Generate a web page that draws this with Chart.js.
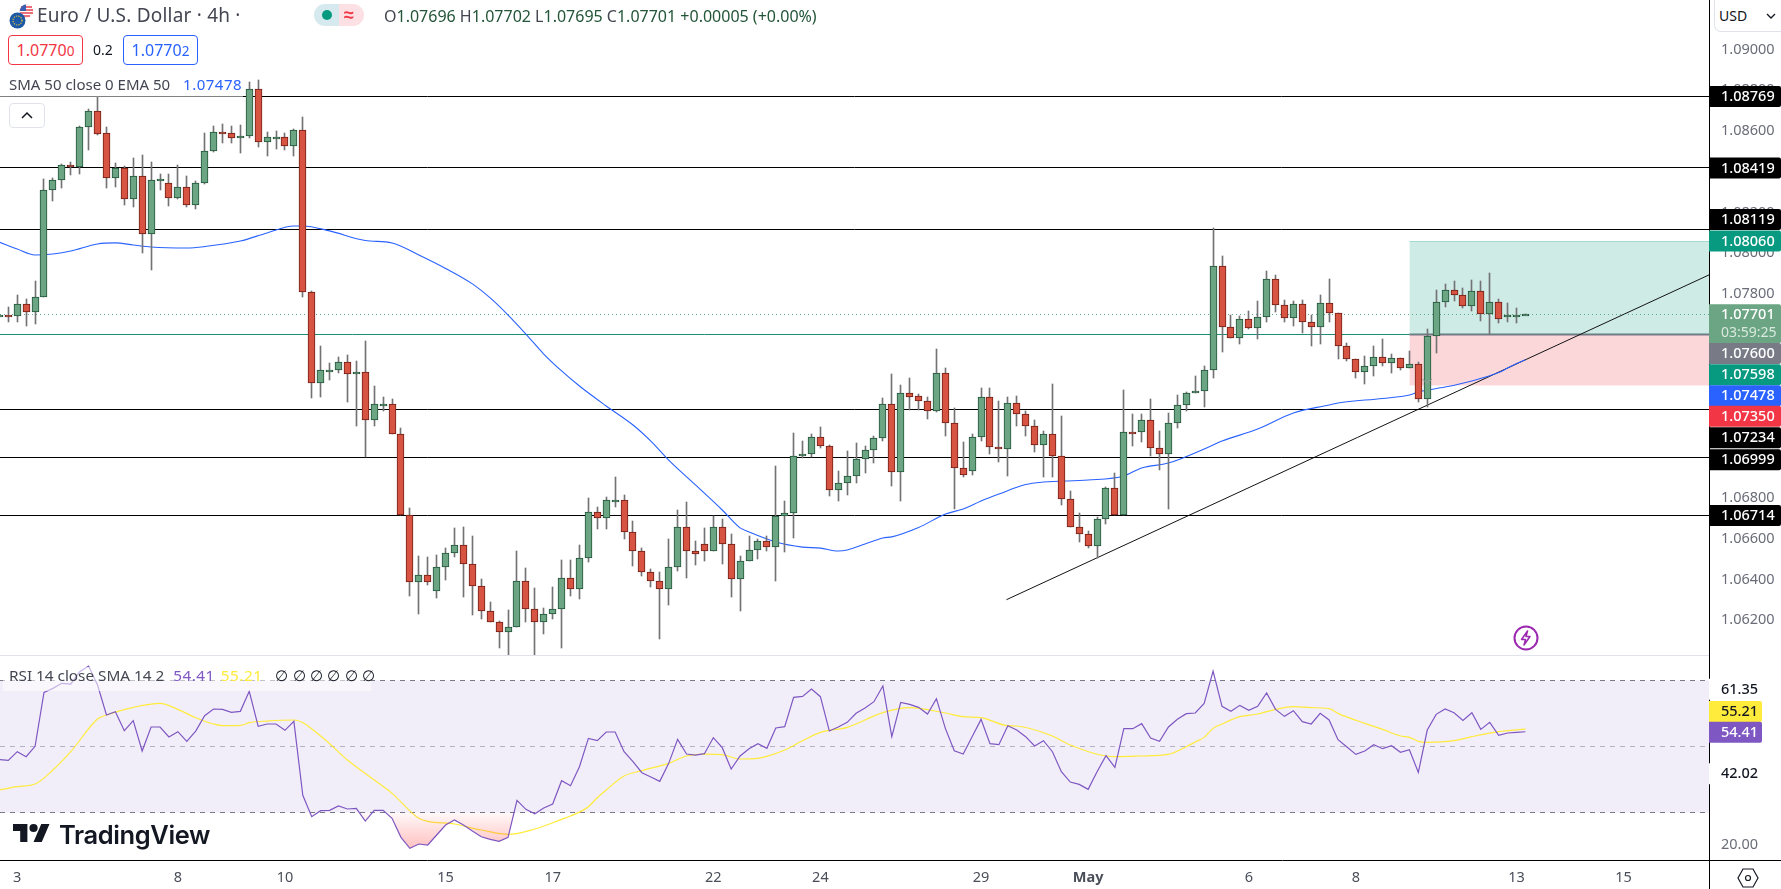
<!DOCTYPE html>
<html><head><meta charset="utf-8">
<script src="https://cdn.jsdelivr.net/npm/chart.js@4/dist/chart.umd.js"></script>
<style>
html,body{margin:0;padding:0;background:#fff;width:1781px;height:889px;overflow:hidden;font-family:"Noto Sans",sans-serif;color:#131722}
canvas{position:absolute;left:0}
.t{position:absolute;white-space:nowrap;line-height:1}
.g{color:#225437}
.n{letter-spacing:.5px}
sup{font-size:85%;line-height:0;vertical-align:22%}
.box{position:absolute;box-sizing:border-box;border-radius:4px;border:1px solid;top:35px;height:30px;width:75px;text-align:center;font-size:16px;line-height:28px;background:#fff}
</style></head><body>
<canvas id="price" width="1781" height="655" style="top:0"></canvas>
<canvas id="rsi" width="1781" height="234" style="top:655px"></canvas>
<div style="position:absolute;left:0;top:655px;width:1709px;height:1px;background:#e0e3eb"></div>
<div style="position:absolute;left:1709px;top:860px;width:72px;height:1px;background:#000"></div>
<div style="position:absolute;left:1709px;top:860px;width:1px;height:29px;background:#000"></div>

<svg style="position:absolute;left:8px;top:3px" width="26" height="26" viewBox="0 0 26 26">
<circle cx="18" cy="8" r="6.5" fill="#fff" stroke="#f4c6c8" stroke-width=".5"/><path d="M13 4h11M12 7h13M12 10h13M14 13h8" stroke="#e9434f" stroke-width="1.4"/><path d="M12 8a6.500 6.500 0 0 1 6-6.500V8z" fill="#3a5fb0"/>
<circle cx="9.500" cy="17.500" r="8" fill="#1c5aa8"/><circle cx="9.500" cy="17.500" r="4.500" fill="none" stroke="#e8c53a" stroke-width="1.200" stroke-dasharray="1.200 1.200"/></svg>
<div class="t" style="left:37px;top:6px;font-size:19px;color:#434651;letter-spacing:.2px">Euro / U.S. Dollar · 4h ·</div>
<div style="position:absolute;left:314px;top:4px;width:25px;height:22px;background:#d5e9ee;border-radius:11px 0 0 11px"></div>
<div style="position:absolute;left:339px;top:4px;width:25px;height:22px;background:#fde0e3;border-radius:0 11px 11px 0"></div>
<div style="position:absolute;left:322px;top:10px;width:10px;height:10px;border-radius:5px;background:#089981"></div>
<div class="t" style="left:344px;top:5px;font-size:18px;color:#f23645;font-weight:700">≈</div>
<div class="t" style="left:384px;top:8px;font-size:16px;color:#434651">O<span class="g">1.07696</span> H<span class="g">1.07702</span> L<span class="g">1.07695</span> C<span class="g">1.07701</span> <span class="g">+0.00005 (+0.00%)</span></div>
<div class="box" style="left:8px;border-color:#f23645;color:#f23645">1.0770<sup>0</sup></div>
<div class="t" style="left:93px;top:43px;font-size:14px">0.2</div>
<div class="box" style="left:123px;border-color:#2962ff;color:#2962ff">1.0770<sup>2</sup></div>
<div style="position:absolute;left:0;top:72px;width:243px;height:25px;background:rgba(255,255,255,.5);z-index:1"></div>
<div class="t" style="left:9px;top:77px;font-size:15px;color:#434651;z-index:2">SMA 50 close 0 EMA 50 <span class="n" style="color:#2962ff;margin-left:9px">1.07478</span></div>
<div style="position:absolute;left:9px;top:103px;width:36px;height:25px;box-sizing:border-box;border:1px solid #e0e3eb;border-radius:4px;background:#fff"></div>
<svg style="position:absolute;left:20px;top:110px" width="14" height="10" viewBox="0 0 14 10"><path d="M2 8l5-5 5 5" fill="none" stroke="#131722" stroke-width="1.500"/></svg>

<div style="position:absolute;left:1714px;top:-1px;width:67px;height:33px;box-sizing:border-box;border:1px solid #e0e3eb;border-right:0;border-radius:0 0 0 7px;background:#fff"></div>
<div class="t" style="left:1719px;top:9px;font-size:14px">USD</div>
<svg style="position:absolute;left:1766px;top:12px" width="10" height="8" viewBox="0 0 10 8"><path d="M1 2l4 4 4-4" fill="none" stroke="#131722" stroke-width="1.300"/></svg>

<svg style="position:absolute;left:1513px;top:625px" width="26" height="26" viewBox="0 0 26 26"><circle cx="13" cy="13" r="11.500" fill="#fff" stroke="#9c27b0" stroke-width="2"/><path d="M14.500 6L8.500 14.500h4L11 20l6-8.500h-4z" fill="#fff" stroke="#9c27b0" stroke-width="1.500" stroke-linejoin="round"/></svg>
<svg style="position:absolute;left:1421px;top:378px" width="12" height="7" viewBox="0 0 12 7"><path d="M1 1l5 4 5-4" fill="none" stroke="#9a9ca3" stroke-width="1"/></svg>

<div style="position:absolute;left:3px;top:667px;width:368px;height:24px;background:rgba(255,255,255,.55)"></div>
<div class="t" style="left:9px;top:668px;font-size:15.300px;color:#434651">RSI 14 close SMA 14 2 <span class="n" style="color:#7e57c2;margin-left:5px">54.41</span> <span class="n" style="color:#ffeb3b;margin-left:2px">55.21</span> <span style="margin-left:9px;word-spacing:.3px;color:#131722">∅ ∅ ∅ ∅ ∅ ∅</span></div>

<svg style="position:absolute;left:13px;top:824px" width="37" height="18" viewBox="0 4 36 18" preserveAspectRatio="none"><path d="M14 22H7V11H0V4h14v18zM28 22h-8l7.500-18h8L28 22z" fill="#131722"/><circle cx="20" cy="8" r="4" fill="#131722"/></svg>
<div class="t" style="left:59px;top:822px;font-size:25.500px;font-family:Inter;font-weight:600;color:#131722;letter-spacing:-.4px">TradingView</div>
<svg style="position:absolute;left:1736px;top:867px" width="24" height="22" viewBox="0 0 24 22"><path d="M7 2h10l5 9-5 9H7l-5-9z" fill="none" stroke="#131722" stroke-width="1.200"/><circle cx="12" cy="11" r="2.500" fill="none" stroke="#131722" stroke-width="1.200"/></svg>

<script>
const opens=[1.07688,1.07697,1.07692,1.07751,1.07712,1.07786,1.08310,1.08359,1.08433,1.08423,1.08620,1.08698,1.08590,1.08369,1.08418,1.08266,1.08379,1.08095,1.08359,1.08345,1.08271,1.08325,1.08237,1.08345,1.08502,1.08595,1.08590,1.08566,1.08575,1.08806,1.08546,1.08566,1.08570,1.08526,1.08605,1.07810,1.07364,1.07423,1.07428,1.07467,1.07408,1.07418,1.07182,1.07256,1.07261,1.07114,1.06716,1.06388,1.06422,1.06344,1.06461,1.06530,1.06569,1.06476,1.06368,1.06246,1.06192,1.06142,1.06167,1.06393,1.06255,1.06192,1.06231,1.06255,1.06407,1.06354,1.06505,1.06731,1.06702,1.06785,1.06790,1.06633,1.06540,1.06437,1.06393,1.06354,1.06461,1.06658,1.06540,1.06574,1.06540,1.06658,1.06574,1.06403,1.06491,1.06545,1.06589,1.06559,1.06711,1.06726,1.07006,1.07016,1.07099,1.07055,1.06839,1.06873,1.06908,1.06991,1.07035,1.07094,1.07261,1.06927,1.07315,1.07300,1.07276,1.07227,1.07413,1.07168,1.06947,1.06932,1.07099,1.07295,1.07050,1.07040,1.07266,1.07212,1.07153,1.07060,1.07114,1.07006,1.06795,1.06658,1.06623,1.06564,1.06697,1.06849,1.06716,1.07124,1.07124,1.07182,1.07045,1.07016,1.07168,1.07256,1.07315,1.07325,1.07428,1.07938,1.07639,1.07585,1.07678,1.07634,1.07688,1.07874,1.07746,1.07683,1.07751,1.07663,1.07639,1.07756,1.07707,1.07545,1.07482,1.07418,1.07447,1.07491,1.07462,1.07486,1.07437,1.07457,1.07285,1.07594,1.07761,1.07820,1.07796,1.07742,1.07815,1.07702,1.07761,1.07688,1.07695,1.07696];
const highs=[1.07697,1.07737,1.07796,1.07776,1.07864,1.08364,1.08369,1.08438,1.08448,1.08624,1.08708,1.08767,1.08620,1.08443,1.08428,1.08467,1.08482,1.08448,1.08389,1.08389,1.08433,1.08379,1.08354,1.08590,1.08624,1.08634,1.08624,1.08629,1.08840,1.08850,1.08595,1.08600,1.08590,1.08610,1.08669,1.07815,1.07545,1.07462,1.07491,1.07501,1.07472,1.07570,1.07349,1.07295,1.07285,1.07143,1.06751,1.06515,1.06510,1.06520,1.06554,1.06653,1.06658,1.06613,1.06403,1.06290,1.06197,1.06250,1.06540,1.06456,1.06358,1.06260,1.06363,1.06496,1.06496,1.06569,1.06800,1.06756,1.06805,1.06903,1.06815,1.06687,1.06554,1.06451,1.06437,1.06599,1.06741,1.06780,1.06589,1.06653,1.06711,1.06697,1.06623,1.06515,1.06613,1.06599,1.06613,1.06957,1.06785,1.07119,1.07079,1.07114,1.07148,1.07060,1.06932,1.07030,1.07070,1.07055,1.07104,1.07290,1.07408,1.07354,1.07388,1.07310,1.07295,1.07531,1.07437,1.07241,1.07074,1.07114,1.07339,1.07339,1.07276,1.07295,1.07300,1.07227,1.07182,1.07128,1.07359,1.07202,1.06834,1.06726,1.06638,1.06707,1.06854,1.06922,1.07330,1.07212,1.07212,1.07285,1.07128,1.07217,1.07305,1.07320,1.07398,1.07447,1.08124,1.07987,1.07697,1.07692,1.07717,1.07766,1.07913,1.07894,1.07771,1.07766,1.07771,1.07697,1.07796,1.07874,1.07707,1.07560,1.07482,1.07496,1.07545,1.07580,1.07506,1.07486,1.07521,1.07467,1.07629,1.07820,1.07849,1.07864,1.07830,1.07869,1.07864,1.07903,1.07776,1.07756,1.07732,1.07702];
const lows=[1.07688,1.07663,1.07663,1.07643,1.07653,1.07786,1.08257,1.08320,1.08384,1.08389,1.08507,1.08580,1.08320,1.08325,1.08237,1.08227,1.08002,1.07918,1.08310,1.08232,1.08266,1.08227,1.08217,1.08340,1.08497,1.08541,1.08541,1.08492,1.08566,1.08521,1.08477,1.08511,1.08507,1.08477,1.07786,1.07290,1.07295,1.07379,1.07413,1.07271,1.07153,1.07001,1.07153,1.07227,1.07114,1.06716,1.06319,1.06231,1.06373,1.06309,1.06398,1.06510,1.06314,1.06226,1.06206,1.06192,1.06064,1.06030,1.06167,1.06192,1.06030,1.06133,1.06206,1.06064,1.06319,1.06304,1.06486,1.06648,1.06648,1.06756,1.06599,1.06466,1.06417,1.06363,1.06108,1.06275,1.06442,1.06407,1.06471,1.06491,1.06540,1.06476,1.06314,1.06246,1.06491,1.06501,1.06540,1.06393,1.06535,1.06604,1.06996,1.07001,1.07045,1.06810,1.06785,1.06815,1.06873,1.06922,1.06971,1.07079,1.06859,1.06785,1.07232,1.07232,1.07187,1.07222,1.07104,1.06746,1.06903,1.06913,1.07079,1.07016,1.06976,1.06908,1.07153,1.07104,1.07025,1.06903,1.06903,1.06765,1.06658,1.06584,1.06554,1.06505,1.06672,1.06716,1.06716,1.07055,1.07074,1.07006,1.06937,1.06746,1.07143,1.07227,1.07315,1.07246,1.07388,1.07516,1.07585,1.07555,1.07629,1.07580,1.07663,1.07712,1.07663,1.07643,1.07609,1.07545,1.07555,1.07663,1.07482,1.07472,1.07388,1.07359,1.07398,1.07447,1.07413,1.07428,1.07437,1.07271,1.07246,1.07511,1.07737,1.07766,1.07732,1.07717,1.07668,1.07604,1.07658,1.07663,1.07658,1.07695];
const closes=[1.07697,1.07695,1.07751,1.07712,1.07786,1.08310,1.08359,1.08433,1.08428,1.08620,1.08698,1.08585,1.08369,1.08418,1.08266,1.08379,1.08095,1.08359,1.08364,1.08271,1.08325,1.08237,1.08345,1.08502,1.08595,1.08590,1.08566,1.08575,1.08806,1.08546,1.08570,1.08570,1.08526,1.08605,1.07810,1.07364,1.07428,1.07428,1.07467,1.07408,1.07418,1.07182,1.07261,1.07261,1.07114,1.06716,1.06388,1.06422,1.06388,1.06461,1.06530,1.06569,1.06476,1.06368,1.06246,1.06192,1.06142,1.06167,1.06393,1.06255,1.06192,1.06231,1.06255,1.06407,1.06354,1.06505,1.06731,1.06702,1.06790,1.06790,1.06633,1.06540,1.06437,1.06393,1.06354,1.06461,1.06658,1.06540,1.06525,1.06540,1.06658,1.06574,1.06403,1.06491,1.06545,1.06589,1.06559,1.06711,1.06726,1.07006,1.07016,1.07099,1.07055,1.06839,1.06873,1.06908,1.06991,1.07035,1.07094,1.07261,1.06927,1.07315,1.07295,1.07276,1.07227,1.07413,1.07168,1.06947,1.06913,1.07099,1.07295,1.07050,1.07040,1.07266,1.07212,1.07153,1.07060,1.07114,1.07006,1.06795,1.06658,1.06623,1.06564,1.06697,1.06849,1.06716,1.07124,1.07119,1.07182,1.07045,1.07016,1.07168,1.07256,1.07315,1.07325,1.07428,1.07938,1.07639,1.07585,1.07678,1.07634,1.07688,1.07874,1.07746,1.07683,1.07751,1.07663,1.07639,1.07756,1.07707,1.07545,1.07482,1.07418,1.07447,1.07491,1.07462,1.07486,1.07437,1.07457,1.07285,1.07594,1.07761,1.07820,1.07796,1.07742,1.07815,1.07702,1.07761,1.07678,1.07697,1.07697,1.07701];

const emaBars=[0,2,4,6,8,11,13,15,17,21,23,27,30,33,34,37,41,44,47,50,53,55,57,59,61,63,65,68,71,73,75,78,81,83,84,87,90,92,94,95,97,99,100,103,106,108,110,112,115,117,122,126,128,131,135,137,141,145,149,150,155,158,159,162,165,168,169,170,171];
const emaValues=[1.08055,1.08021,1.07992,1.07997,1.08011,1.08046,1.08051,1.08041,1.08031,1.08026,1.08033,1.08060,1.08100,1.08134,1.08134,1.08110,1.08063,1.08051,1.07992,1.07926,1.07850,1.07781,1.07697,1.07604,1.07506,1.07423,1.07349,1.07251,1.07158,1.07079,1.06986,1.06864,1.06741,1.06653,1.06633,1.06584,1.06559,1.06554,1.06540,1.06545,1.06574,1.06604,1.06609,1.06655,1.06721,1.06746,1.06785,1.06819,1.06866,1.06878,1.06888,1.06908,1.06947,1.06971,1.07040,1.07079,1.07138,1.07217,1.07256,1.07266,1.07288,1.07305,1.07320,1.07344,1.07374,1.07415,1.07437,1.07460,1.07478];

const rsiValues=[45.95,45.74,48.37,46.86,50.01,66.35,67.56,69.08,68.88,72.61,74.33,68.57,59.48,60.49,54.74,57.77,48.57,55.85,55.85,52.82,54.43,51.50,54.63,59.28,61.30,61.20,60.29,60.59,66.65,56.05,56.76,56.76,54.84,57.56,35.14,28.67,30.49,30.59,31.91,31.00,31.20,27.36,30.59,30.59,28.17,22.41,19.08,20.39,20.09,23.12,26.15,27.66,26.15,24.33,22.61,21.81,21.20,22.41,33.62,30.90,29.58,31.30,32.51,39.58,38.07,43.83,52.41,51.70,54.33,54.33,48.37,45.34,42.01,40.70,39.38,44.84,52.11,47.66,47.36,47.77,52.61,49.58,43.12,47.06,49.28,50.80,49.38,55.54,55.95,64.84,65.14,67.36,65.04,54.63,55.85,57.26,59.99,61.60,63.52,68.27,52.92,63.32,62.72,61.81,59.79,64.43,55.44,48.67,47.66,52.92,58.17,50.80,50.49,56.25,54.94,52.92,50.09,51.71,48.37,42.31,39.18,38.47,36.96,42.31,47.16,43.62,55.34,55.34,56.86,52.51,51.50,55.85,58.17,59.89,60.09,63.02,72.82,62.11,60.59,62.41,60.90,62.11,66.15,61.20,59.08,60.80,57.46,56.76,59.99,57.97,52.01,49.79,47.56,48.57,50.49,49.28,50.19,48.17,48.98,42.11,54.94,59.69,61.30,60.19,57.87,60.19,55.14,57.26,53.32,54.03,54.23,54.41];
const rsiMaBars=[0,2,4,6,8,11,12,15,18,20,22,24,25,27,28,30,33,36,39,42,44,47,48,51,54,57,60,63,64,66,67,68,70,72,75,77,79,81,83,85,86,88,90,92,95,99,102,106,108,110,113,114,118,120,125,128,131,133,134,135,136,137,139,141,143,145,147,149,150,153,155,157,158,159,160,163,165,168,171];
const rsiMaValues=[36.76,37.77,38.57,42.82,48.37,58.27,59.48,61.80,63.02,61.20,58.67,56.76,56.25,56.35,57.16,57.66,57.97,53.12,45.85,39.79,35.75,28.17,27.26,26.45,24.63,23.32,24.94,27.87,28.88,31.71,34.43,36.76,41.00,42.62,44.84,47.06,47.66,47.46,46.15,46.35,46.96,48.88,51.71,54.23,55.75,60.19,61.71,60.09,58.98,58.67,56.25,56.15,53.12,50.39,46.86,47.06,47.56,49.89,51.30,52.71,55.44,56.76,58.98,59.79,61.20,62.01,61.71,61.40,59.99,56.96,55.14,53.12,52.71,51.50,51.20,51.70,52.92,54.43,55.21];

const levelPrices=[1.08769,1.08419,1.08119,1.07234,1.06999,1.06714];
const pricePivot=1.07600, lastClose=1.07701, targetPrice=1.08060, stopPrice=1.07350;
const trendBars=[112.85,191.57], trendPrices=[1.06301,1.07894];
const rsiLevels=[70,50,30];
const priceTicks=[1.09,1.088,1.086,1.084,1.082,1.08,1.078,1.076,1.074,1.072,1.07,1.068,1.066,1.064,1.062];
const rsiTicks=[20];
const timeBars=[2,20,32,50,62,80,92,110,122,140,152,170,182];
const timeLabels=['3','8','10','15','17','22','24','29','May','6','8','13','15'];

const priceBadges=[
 {v:1.08769,t:'1.08769',bg:'#000',fg:'#fff',nudge:0},
 {v:1.08419,t:'1.08419',bg:'#000',fg:'#fff',nudge:0},
 {v:1.08119,t:'1.08119',bg:'#000',fg:'#fff',nudge:-9.6},
 {v:1.08060,t:'1.08060',bg:'#089981',fg:'#fff',nudge:0},
 {v:1.07701,t:'1.07701',bg:'#6ba583',fg:'#fff',nudge:9.5,t2:'03:59:25',h:39},
 {v:1.07600,t:'1.07600',bg:'#787b86',fg:'#fff',nudge:18.6},
 {v:1.07598,t:'1.07598',bg:'#089981',fg:'#fff',nudge:39.4},
 {v:1.07478,t:'1.07478',bg:'#2962ff',fg:'#fff',nudge:36},
 {v:1.07350,t:'1.07350',bg:'#f23645',fg:'#fff',nudge:30.4},
 {v:1.07234,t:'1.07234',bg:'#000',fg:'#fff',nudge:28.3},
 {v:1.06999,t:'1.06999',bg:'#000',fg:'#fff',nudge:2.3},
 {v:1.06714,t:'1.06714',bg:'#000',fg:'#fff',nudge:0}];
const rsiBadges=[
 {v:61.35,t:'61.35',bg:'#fff',fg:'#131722',nudge:-19.5},
 {v:55.21,t:'55.21',bg:'#ffeb3b',fg:'#131722',nudge:-17.5},
 {v:54.41,t:'54.41',bg:'#7e57c2',fg:'#fff',nudge:0.6},
 {v:42.02,t:'42.02',bg:'#fff',fg:'#131722',nudge:1}];

const XMIN=0.07,XMAX=191.57,FONT='"Noto Sans",sans-serif';
const bars=opens.map((_,i)=>i);
const UP='#6ba583',DOWN='#d75442',UPB='#225437',DOWNB='#6f1e14',WICK='#737375';

const crisp={id:'crisp',afterDatasetsUpdate(chart){
  chart.data.datasets.forEach((ds,k)=>{
    const m=chart.getDatasetMeta(k);
    if(ds.type==='line'){ if(ds.crisp) m.data.forEach(p=>{p.y=Math.floor(p.y)+.5}); return; }
    m.data.forEach(el=>{
      el.x=Math.floor(el.x)+.5; el.y=Math.round(el.y); el.base=Math.round(el.base);
      if(ds.minPx && el.base-el.y<ds.minPx) el.base=el.y+ds.minPx;
    });
  });
}};
function badgePlugin(list,w){return {id:'badges',afterDraw(chart){
  const c=chart.ctx,s=chart.scales.y,L=chart.chartArea.right;
  c.save();
  list.forEach(b=>{
    const y=s.getPixelForValue(b.v)+b.nudge,h=b.h||21;
    c.fillStyle=b.bg;c.beginPath();c.roundRect(L,y-h/2,w,h,[0,2,2,0]);c.fill();
    c.fillStyle=b.fg;c.textBaseline='middle';c.textAlign='left';c.font='500 14.500px '+FONT;
    c.fillText(b.t,L+12,b.t2?y-h/2+11:y+.5);
    if(b.t2){c.fillStyle='rgba(255,255,255,.75)';c.font='14px '+FONT;c.fillText(b.t2,L+12,y-h/2+29);}
  });
  c.restore();
}}}
const hline=(x0,x1,v,color,w,extra)=>Object.assign({type:'line',data:[{x:x0,y:v},{x:x1,y:v}],borderColor:color,borderWidth:w,pointRadius:0,fill:false,tension:0,order:3,crisp:true},extra||{});
const fitY=s=>{s.width=72;s.paddingTop=0;s.paddingBottom=0};

new Chart(document.getElementById('price'),{
  type:'bar',
  data:{datasets:[
    hline(158,XMAX,targetPrice,'rgba(8,153,129,.3)',1,{fill:'+1',backgroundColor:'rgba(8,153,129,.2)',order:6}),
    hline(158,XMAX,pricePivot,'#787b86',2,{fill:'+1',backgroundColor:'rgba(242,54,69,.2)',order:6}),
    hline(158,XMAX,stopPrice,'rgba(242,54,69,0)',1,{order:6}),
    hline(XMIN,158,pricePivot,'#1c8c7a',1),
    ...levelPrices.map(v=>hline(XMIN,XMAX,v,'#000',1)),
    hline(XMIN,XMAX,lastClose,'#5aa98a',1,{borderDash:[1,3]}),
    {type:'line',data:trendBars.map((x,i)=>({x,y:trendPrices[i]})),borderColor:'#131313',borderWidth:1,pointRadius:0,fill:false,order:3},
    {type:'line',data:emaBars.map((x,i)=>({x,y:emaValues[i]})),borderColor:'#2962ff',borderWidth:1.1,pointRadius:0,fill:false,cubicInterpolationMode:'monotone',order:2},
    {type:'bar',data:bars.map(i=>({x:i,y:[lows[i],highs[i]]})),backgroundColor:WICK,borderWidth:0,barThickness:1,grouped:false,order:1,minBarLength:1},
    {type:'bar',data:bars.map(i=>({x:i,y:[Math.min(opens[i],closes[i]),Math.max(opens[i],closes[i])]})),
      backgroundColor:bars.map(i=>closes[i]>=opens[i]?UP:DOWN),borderColor:bars.map(i=>closes[i]>=opens[i]?UPB:DOWNB),
      borderWidth:1,borderSkipped:false,barThickness:7,grouped:false,order:0,minPx:2}
  ]},
  options:{responsive:false,animation:false,devicePixelRatio:1,events:[],
    layout:{padding:0,autoPadding:false},
    plugins:{legend:{display:false},tooltip:{enabled:false}},
    scales:{
      x:{type:'linear',min:XMIN,max:XMAX,offset:false,display:false,grid:{display:false,offset:false}},
      y:{position:'right',min:1.060297,max:1.092425,beginAtZero:false,
        afterFit:fitY,
        afterBuildTicks(s){s.ticks=priceTicks.map(value=>({value}))},
        grid:{display:false,drawTicks:false},border:{display:true,color:'#000',width:1},
        ticks:{padding:12,autoSkip:false,color:'#6a6d78',font:{family:FONT,size:14.5},callback:v=>v.toFixed(5)}}
    }
  },
  plugins:[crisp,badgePlugin(priceBadges,72)]
});

const rsiCanvas=document.getElementById('rsi');
const pink=rsiCanvas.getContext('2d').createLinearGradient(0,157,0,195);
pink.addColorStop(0,'rgba(255,82,82,.03)');pink.addColorStop(1,'rgba(255,82,82,.38)');
const tickFont=ctx=>({family:FONT,size:14.5,weight:timeLabels[ctx.index]==='May'?'700':'400'});
new Chart(rsiCanvas,{
  type:'line',
  data:{datasets:[
    hline(XMIN,XMAX,rsiLevels[0],'#787b86',1,{borderDash:[5,5],fill:'+2',backgroundColor:'rgba(126,87,194,.1)',order:5}),
    hline(XMIN,XMAX,rsiLevels[1],'rgba(120,123,134,.5)',1,{borderDash:[5,5],order:5}),
    hline(XMIN,XMAX,rsiLevels[2],'#787b86',1,{borderDash:[5,5],order:5}),
    {type:'line',data:rsiMaBars.map((x,i)=>({x,y:rsiMaValues[i]})),borderColor:'#ffeb3b',borderWidth:1.2,pointRadius:0,fill:false,cubicInterpolationMode:'monotone',order:2},
    {type:'line',data:bars.map(i=>({x:i,y:rsiValues[i]})),borderColor:'#7e57c2',borderWidth:1.2,pointRadius:0,tension:0,order:1,
      fill:{target:{value:30},above:'rgba(0,0,0,0)',below:pink}}
  ]},
  options:{responsive:false,animation:false,devicePixelRatio:1,events:[],
    layout:{padding:0,autoPadding:false},
    plugins:{legend:{display:false},tooltip:{enabled:false}},
    scales:{
      x:{type:'linear',position:'bottom',min:XMIN,max:XMAX,offset:false,
        afterFit(s){s.height=29;s.paddingLeft=0;s.paddingRight=0},
        afterBuildTicks(s){s.ticks=timeBars.map(value=>({value}))},
        grid:{display:false,drawTicks:false},border:{display:true,color:'#000',width:1},
        ticks:{padding:9,autoSkip:false,maxRotation:0,color:'#4a4e59',font:tickFont,callback:(v,i)=>timeLabels[i]}},
      y:{position:'right',min:15.55,max:77.67,
        afterFit:fitY,
        afterBuildTicks(s){s.ticks=rsiTicks.map(value=>({value}))},
        grid:{display:false,drawTicks:false},border:{display:true,color:'#000',width:1},
        ticks:{padding:12,autoSkip:false,color:'#6a6d78',font:{family:FONT,size:14.5},callback:v=>v.toFixed(2)}}
    }
  },
  plugins:[crisp,badgePlugin(rsiBadges,53)]
});
</script>
</body></html>
